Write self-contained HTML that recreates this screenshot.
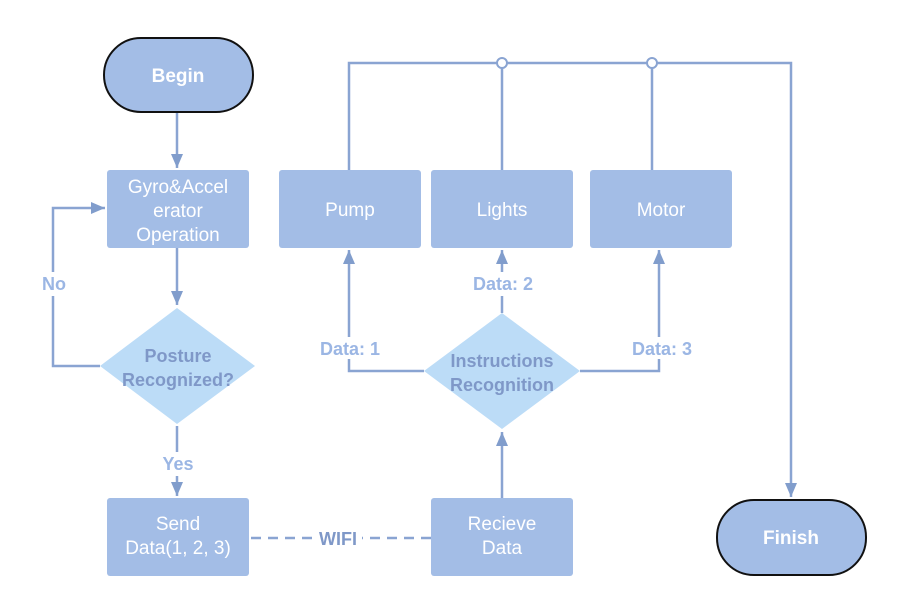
<!DOCTYPE html>
<html><head><meta charset="utf-8"><style>
html,body{margin:0;padding:0;background:#fff;}
svg{display:block;}
text{font-family:"Liberation Sans",sans-serif;}
</style></head><body>
<svg width="904" height="616" viewBox="0 0 904 616" xmlns="http://www.w3.org/2000/svg">
<defs>
<marker id="a" viewBox="0 0 14 12" refX="14" refY="6" markerWidth="14" markerHeight="12" markerUnits="userSpaceOnUse" orient="auto">
<path d="M0,0 L14,6 L0,12 z" fill="#819dcc"/></marker>
</defs>
<g stroke="#8aa4d2" stroke-width="2.5" fill="none">
<polyline points="349,170 349,63 791,63 791,497" marker-end="url(#a)"/>
<line x1="502" y1="63" x2="502" y2="170"/>
<line x1="652" y1="63" x2="652" y2="170"/>
<line x1="177" y1="112" x2="177" y2="168" marker-end="url(#a)"/>
<line x1="177" y1="248" x2="177" y2="305" marker-end="url(#a)"/>
<polyline points="100,366 53,366 53,208 105,208" marker-end="url(#a)"/>
<line x1="177" y1="426" x2="177" y2="496" marker-end="url(#a)"/>
<line x1="502" y1="498" x2="502" y2="432" marker-end="url(#a)"/>
<polyline points="424,371 349,371 349,250" marker-end="url(#a)"/>
<line x1="502" y1="313" x2="502" y2="250" marker-end="url(#a)"/>
<polyline points="580,371 659,371 659,250" marker-end="url(#a)"/>
<line x1="251" y1="538" x2="431" y2="538" stroke-dasharray="10,7"/>
</g>
<circle cx="502" cy="63" r="5" fill="#fff" stroke="#8aa4d2" stroke-width="2"/>
<circle cx="652" cy="63" r="5" fill="#fff" stroke="#8aa4d2" stroke-width="2"/>
<rect x="36" y="272" width="36" height="24" fill="#fff"/>
<rect x="160" y="452" width="36" height="24" fill="#fff"/>
<rect x="312" y="527" width="50" height="22" fill="#fff"/>
<rect x="312" y="337" width="76" height="22" fill="#fff"/>
<rect x="466" y="272" width="74" height="24" fill="#fff"/>
<rect x="624" y="337" width="76" height="22" fill="#fff"/>
<rect x="104" y="38" width="149" height="74" rx="37" fill="#a3bde6" stroke="#111" stroke-width="2"/>
<rect x="717" y="500" width="149" height="75" rx="37" fill="#a3bde6" stroke="#111" stroke-width="2"/>
<g fill="#a3bde6">
<rect x="107" y="170" width="142" height="78" rx="3"/>
<rect x="107" y="498" width="142" height="78" rx="3"/>
<rect x="431" y="498" width="142" height="78" rx="3"/>
<rect x="279" y="170" width="142" height="78" rx="3"/>
<rect x="431" y="170" width="142" height="78" rx="3"/>
<rect x="590" y="170" width="142" height="78" rx="3"/>
</g>
<g fill="#bcdcf7">
<polygon points="177,308 255,366 177,424 100,366"/>
<polygon points="502,313 580,371 502,429 424,371"/>
</g>
<g font-size="19" fill="#ffffff" text-anchor="middle">
<text x="178" y="82" font-weight="bold">Begin</text>
<text x="791" y="544" font-weight="bold">Finish</text>
<text x="178" y="193">Gyro&amp;Accel</text>
<text x="178" y="217">erator</text>
<text x="178" y="241">Operation</text>
<text x="178" y="530">Send</text>
<text x="178" y="554">Data(1, 2, 3)</text>
<text x="502" y="530">Recieve</text>
<text x="502" y="554">Data</text>
<text x="350" y="216">Pump</text>
<text x="502" y="216">Lights</text>
<text x="661" y="216">Motor</text>
</g>
<g font-size="18" fill="#7f98c8" text-anchor="middle" font-weight="bold">
<text x="178" y="362">Posture</text>
<text x="178" y="386">Recognized?</text>
<text x="502" y="367">Instructions</text>
<text x="502" y="391">Recognition</text>
<text x="338" y="545">WIFI</text>
</g>
<g font-size="18" fill="#9bb6e4" text-anchor="middle" font-weight="bold">
<text x="54" y="290">No</text>
<text x="178" y="470">Yes</text>
<text x="350" y="355">Data: 1</text>
<text x="503" y="290">Data: 2</text>
<text x="662" y="355">Data: 3</text>
</g>
</svg>
</body></html>
